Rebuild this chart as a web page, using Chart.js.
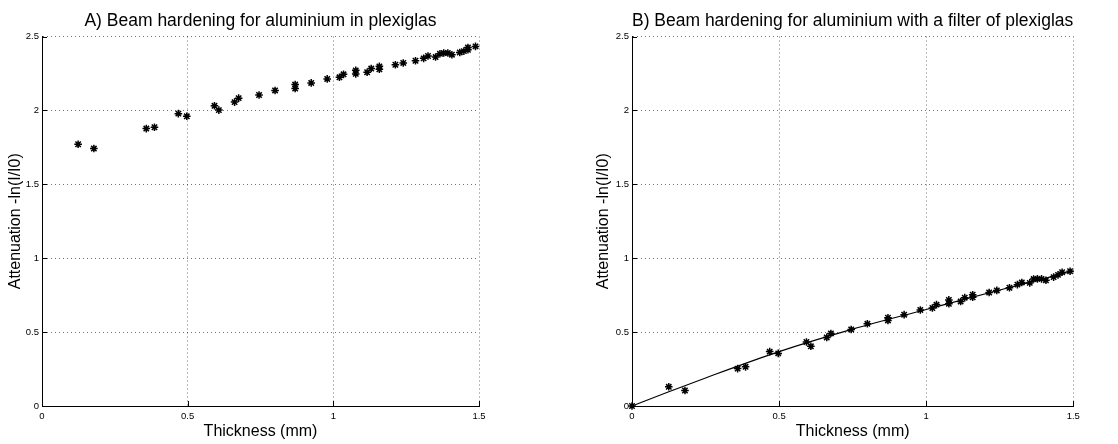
<!DOCTYPE html>
<html><head><meta charset="utf-8">
<script src="https://cdn.jsdelivr.net/npm/chart.js@4.4.1/dist/chart.umd.min.js"></script>
<style>
html,body{margin:0;padding:0;background:#fff;width:1118px;height:444px;overflow:hidden}
#wA{position:absolute;left:0;top:0;width:560px;height:444px}
#wB{position:absolute;left:560px;top:0;width:558px;height:444px}
</style></head><body>
<div id="wA"><canvas id="cA"></canvas></div>
<div id="wB"><canvas id="cB"></canvas></div>
<script>
// ---- data ----
const thicknessA = [0.124,0.178,0.358,0.386,0.468,0.497,0.592,0.607,0.661,0.675,0.745,0.800,0.869,0.869,0.924,0.979,1.021,1.035,1.077,1.077,1.116,1.130,1.158,1.158,1.213,1.240,1.282,1.310,1.325,1.351,1.366,1.379,1.393,1.407,1.434,1.448,1.462,1.462,1.488];
const attenuationA = [1.771,1.742,1.877,1.886,1.978,1.960,2.031,2.002,2.056,2.083,2.104,2.135,2.175,2.148,2.186,2.213,2.224,2.244,2.271,2.247,2.258,2.283,2.298,2.278,2.309,2.321,2.336,2.352,2.368,2.361,2.383,2.388,2.388,2.377,2.392,2.401,2.410,2.426,2.433];
const thicknessB = [0,0.125,0.180,0.359,0.386,0.468,0.497,0.593,0.608,0.662,0.676,0.745,0.800,0.870,0.870,0.925,0.980,1.021,1.035,1.077,1.077,1.117,1.131,1.158,1.158,1.214,1.240,1.283,1.310,1.325,1.352,1.365,1.378,1.392,1.407,1.433,1.448,1.462,1.489];
const attenuationB = [0,0.130,0.105,0.253,0.265,0.368,0.356,0.433,0.404,0.464,0.491,0.518,0.556,0.597,0.579,0.618,0.650,0.663,0.686,0.718,0.692,0.707,0.733,0.753,0.736,0.768,0.782,0.800,0.821,0.836,0.833,0.859,0.860,0.860,0.851,0.872,0.887,0.905,0.912];
const fitThickness = [0,0.125,0.25,0.5,0.75,1.0,1.25,1.5];
const fitAttenuation = [0,0.096,0.19,0.368,0.52,0.653,0.785,0.913];
const xTickValues = [0,0.5,1,1.5];
const yTickValues = [0,0.5,1,1.5,2,2.5];
const titleA = 'A) Beam hardening for aluminium in plexiglas';
const titleB = 'B) Beam hardening for aluminium with a filter of plexiglas';
const xLabel = 'Thickness (mm)';
const yLabel = 'Attenuation -ln(I/I0)';

const FONT = "'Liberation Sans', Arial, Helvetica, sans-serif";
Chart.defaults.font.family = FONT;
Chart.defaults.color = '#000';

const inwardTicks = {
  id: 'inwardTicks',
  afterDraw(chart) {
    const {ctx, chartArea, scales} = chart;
    const x = scales.x, y = scales.y;
    ctx.save();
    ctx.strokeStyle = '#000';
    ctx.lineWidth = 1;
    ctx.beginPath();
    x.ticks.forEach(t => {
      const px = Math.round(x.getPixelForValue(t.value)) + 0.5;
      ctx.moveTo(px, chartArea.bottom);
      ctx.lineTo(px, chartArea.bottom - 5);
    });
    y.ticks.forEach(t => {
      const py = Math.round(y.getPixelForValue(t.value)) + 0.5;
      ctx.moveTo(chartArea.left, py);
      ctx.lineTo(chartArea.left + 5, py);
    });
    ctx.stroke();
    ctx.restore();
  }
};

function pts(xs, ys) { return xs.map((v, i) => ({x: v, y: ys[i]})); }
const fmt = v => String(v);

function makeOptions(title, yWidth, rightPad, yTitlePad) {
  const gridCommon = {color: 'rgba(0,0,0,0.55)', lineWidth: 1, drawTicks: false};
  const borderCommon = {display: true, color: '#000', width: 1, dash: [1, 3]};
  return {
    responsive: true,
    maintainAspectRatio: false,
    animation: false,
    devicePixelRatio: 1,
    layout: {padding: {left: 0, right: rightPad, top: 0, bottom: 0}},
    plugins: {
      legend: {display: false},
      tooltip: {enabled: false},
      title: {display: true, text: title, fullSize: false, color: '#000',
        font: {size: 17.5, weight: 'normal', family: FONT, lineHeight: 1.2},
        padding: {top: 10.5, bottom: 5}}
    },
    scales: {
      x: {
        type: 'linear', min: 0, max: 1.5,
        afterBuildTicks: s => { s.ticks = xTickValues.map(v => ({value: v})); },
        afterFit: s => { s.height = 38; },
        ticks: {font: {size: 9.5}, color: '#000', padding: 5, maxRotation: 0, autoSkip: false, callback: fmt},
        grid: gridCommon,
        border: borderCommon,
        title: {display: true, text: xLabel, color: '#000', font: {size: 16, lineHeight: 1.2}, padding: {top: 0, bottom: 2.4}}
      },
      y: {
        type: 'linear', min: 0, max: 2.5,
        afterBuildTicks: s => { s.ticks = yTickValues.map(v => ({value: v})); },
        afterFit: s => { s.width = yWidth; },
        ticks: {font: {size: 9.5}, color: '#000', padding: 3, autoSkip: false, callback: fmt},
        grid: gridCommon,
        border: borderCommon,
        title: {display: true, text: yLabel, color: '#000', font: {size: 16, lineHeight: 1.2}, padding: {top: yTitlePad, bottom: 0}}
      }
    }
  };
}

const starStyle = {pointStyle: 'star', pointRadius: 3.8, pointBorderWidth: 1.5, borderColor: '#000', backgroundColor: '#000', pointBorderColor: '#000', showLine: false, clip: false};

new Chart(document.getElementById('cA'), {
  type: 'scatter',
  data: {datasets: [Object.assign({label: 'A', data: pts(thicknessA, attenuationA)}, starStyle)]},
  options: makeOptions(titleA, 42, 81, 6.4),
  plugins: [inwardTicks]
});

new Chart(document.getElementById('cB'), {
  type: 'scatter',
  data: {datasets: [
    Object.assign({label: 'B', data: pts(thicknessB, attenuationB)}, starStyle),
    {label: 'fit', type: 'line', data: pts(fitThickness, fitAttenuation), borderColor: '#000', borderWidth: 1.1, pointRadius: 0, showLine: true, fill: false, cubicInterpolationMode: 'monotone', clip: false}
  ]},
  options: makeOptions(titleB, 72, 44.7, 34.4),
  plugins: [inwardTicks]
});
</script>
</body></html>
